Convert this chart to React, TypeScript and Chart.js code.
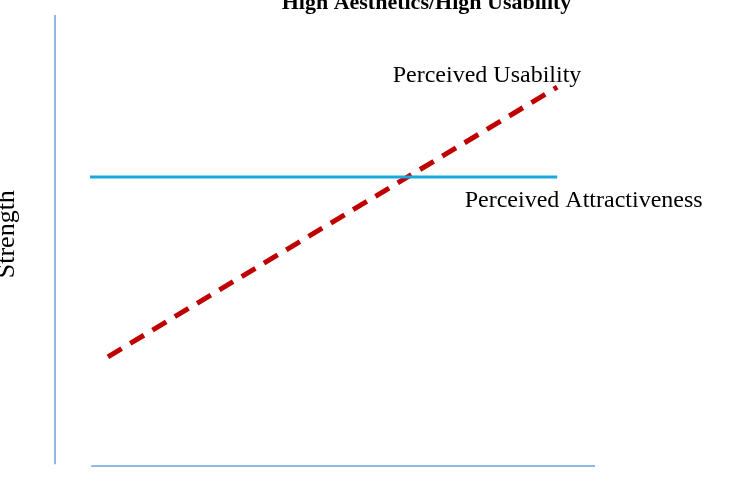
import React, { useEffect, useRef } from "react";
import { Chart, registerables } from "chart.js";

Chart.register(...registerables);

const titleText = "High Aesthetics/High Usability";
const yAxisLabel = "Strength";
const seriesNames = ["Perceived Usability", "Perceived Attractiveness"];

// abstract data space 0..100 on both axes
const usabilityX = [9.8, 93];
const usabilityY = [24.2, 84.0];
const attractX = [6.5, 93];
const attractY = [64.1, 64.1];
const vAxisX = [0, 0];
const vAxisY = [0.4, 100];
const hAxisX = [6.7, 100];
const hAxisY = [0, 0];

const pts = (xs: number[], ys: number[]) => xs.map((x, i) => ({ x, y: ys[i] }));

const textPlugin = {
  id: "textPlugin",
  afterDatasetsDraw(chart: any) {
    const ctx = chart.ctx;
    const xs = chart.scales.x;
    const ys = chart.scales.y;
    ctx.save();
    ctx.fillStyle = "#000";
    ctx.textAlign = "center";
    ctx.textBaseline = "alphabetic";
    // title
    ctx.font = "bold 22px 'Liberation Serif', 'Times New Roman', serif";
    ctx.fillText(titleText, xs.getPixelForValue(68.8), 9);
    // series labels
    ctx.font = "24px 'Liberation Serif', 'Times New Roman', serif";
    ctx.fillText(seriesNames[0], xs.getPixelForValue(80), ys.getPixelForValue(85.1));
    ctx.fillText(seriesNames[1], xs.getPixelForValue(97.9), ys.getPixelForValue(57.4));
    // y label
    ctx.font = "26px 'Liberation Serif', 'Times New Roman', serif";
    ctx.translate(14, ys.getPixelForValue(51.4));
    ctx.rotate(-Math.PI / 2);
    ctx.fillText(yAxisLabel, 0, 0);
    ctx.restore();
  },
};

export default function App() {
  const ref = useRef<HTMLCanvasElement>(null);
  useEffect(() => {
    document.body.style.margin = "0";
    const chart = new Chart(ref.current!, {
      type: "scatter",
      data: {
        datasets: [
          {
            data: pts(vAxisX, vAxisY),
            showLine: true,
            borderColor: "#6E9FDA",
            backgroundColor: "#6E9FDA",
            borderWidth: 1.5,
            pointRadius: 0,
            clip: false,
          },
          {
            data: pts(hAxisX, hAxisY),
            showLine: true,
            borderColor: "#6E9FDA",
            backgroundColor: "#6E9FDA",
            borderWidth: 1.5,
            pointRadius: 0,
            clip: false,
          },
          {
            label: seriesNames[1],
            data: pts(attractX, attractY),
            showLine: true,
            borderColor: "#1AA7DC",
            backgroundColor: "#1AA7DC",
            borderWidth: 3,
            pointRadius: 0,
            clip: false,
          },
          {
            label: seriesNames[0],
            data: pts(usabilityX, usabilityY),
            showLine: true,
            borderColor: "#C00000",
            backgroundColor: "#C00000",
            borderWidth: 5,
            borderDash: [16, 10],
            pointRadius: 0,
            clip: false,
          },
        ],
      },
      options: {
        animation: false,
        responsive: false,
        maintainAspectRatio: false,
        layout: { padding: { left: 55, right: 137, top: 15, bottom: 26 } },
        plugins: { legend: { display: false }, tooltip: { enabled: false }, title: { display: false } },
        scales: {
          x: { type: "linear", min: 0, max: 100, display: false },
          y: { type: "linear", min: 0, max: 100, display: false },
        },
      },
      plugins: [textPlugin],
    });
    return () => chart.destroy();
  }, []);
  return (
    <div style={{ width: 732, height: 492, background: "#fff" }}>
      <canvas ref={ref} width={732} height={492} style={{ display: "block" }} />
    </div>
  );
}
